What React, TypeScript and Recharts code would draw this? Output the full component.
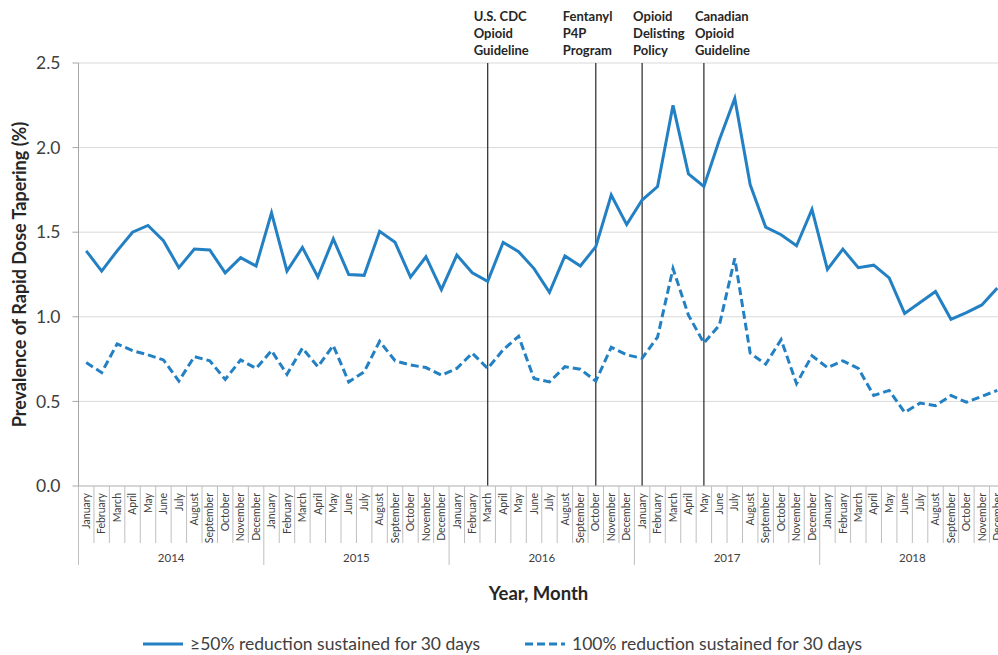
import React from "react"
import { LineChart, Line, XAxis, YAxis, CartesianGrid, ReferenceLine } from "recharts"

const years = ["2014", "2015", "2016", "2017", "2018"]
const monthNames = [
  "January", "February", "March", "April", "May", "June",
  "July", "August", "September", "October", "November", "December",
]

// ≥50% reduction sustained for 30 days
const sustained50 = [
  1.39, 1.27, 1.39, 1.5, 1.54, 1.45, 1.29, 1.4, 1.395, 1.26, 1.35, 1.3,
  1.615, 1.27, 1.41, 1.235, 1.46, 1.25, 1.245, 1.505, 1.44, 1.235, 1.355, 1.16,
  1.365, 1.26, 1.21, 1.44, 1.385, 1.285, 1.145, 1.36, 1.3, 1.415, 1.72, 1.545,
  1.69, 1.77, 2.25, 1.845, 1.77, 2.045, 2.29, 1.78, 1.53, 1.485, 1.42, 1.635,
  1.28, 1.4, 1.29, 1.305, 1.23, 1.02, 1.085, 1.15, 0.985, 1.025, 1.07, 1.17,
]

// 100% reduction sustained for 30 days
const sustained100 = [
  0.73, 0.67, 0.84, 0.8, 0.775, 0.745, 0.62, 0.765, 0.74, 0.63, 0.745, 0.695,
  0.8, 0.66, 0.815, 0.705, 0.83, 0.615, 0.675, 0.855, 0.74, 0.715, 0.7, 0.655,
  0.695, 0.785, 0.695, 0.805, 0.885, 0.635, 0.615, 0.705, 0.69, 0.62, 0.82, 0.775,
  0.755, 0.88, 1.285, 1.01, 0.845, 0.95, 1.345, 0.785, 0.72, 0.865, 0.605, 0.77,
  0.7, 0.74, 0.695, 0.535, 0.565, 0.435, 0.49, 0.475, 0.535, 0.495, 0.53, 0.565,
]

const yTicks = [0, 0.5, 1, 1.5, 2, 2.5]

const events = [
  { key: "2016-03", lines: ["U.S. CDC", "Opioid", "Guideline"], dx: -14 },
  { key: "2016-10", lines: ["Fentanyl", "P4P", "Program"], dx: -33 },
  { key: "2017-01", lines: ["Opioid", "Delisting", "Policy"], dx: -9 },
  { key: "2017-05", lines: ["Canadian", "Opioid", "Guideline"], dx: -9 },
]

const seriesNames = ["≥50% reduction sustained for 30 days", "100% reduction sustained for 30 days"]

const data = sustained50.map((v, i) => ({
  key: `${years[Math.floor(i / 12)]}-${String((i % 12) + 1).padStart(2, "0")}`,
  month: monthNames[i % 12],
  year: years[Math.floor(i / 12)],
  s50: v,
  s100: sustained100[i],
}))

const FONT = "Lato, 'Open Sans', sans-serif"
const BLUE = "#2380c3"
const W = 1010
const H = 655
const LEFT = 78.5
const TOP = 63
const PLOT_W = 926.5
const PLOT_H = 423
const BAND = PLOT_W / data.length

function MonthTick(props: any) {
  const { x, y, index } = props
  const d = data[index]
  if (!d) return null
  const left = x - BAND / 2
  const isJan = index % 12 === 0
  return (
    <g>
      <line x1={left} x2={left} y1={y} y2={y + (isJan ? 79 : 57)} stroke="#bfbfbf" />
      {index === data.length - 1 && (
        <line x1={x + BAND / 2} x2={x + BAND / 2} y1={y} y2={y + 79} stroke="#bfbfbf" />
      )}
      <text
        transform={`translate(${x},${y + 7}) rotate(-90)`}
        textAnchor="end"
        dy="0.35em"
        fontSize={10.5}
        fontFamily={FONT}
        fill="#404040"
      >
        {d.month}
      </text>
      {index % 12 === 6 && (
        <text x={left} y={y + 76} textAnchor="middle" fontSize={11.5} fontFamily={FONT} fill="#404040">
          {d.year}
        </text>
      )}
    </g>
  )
}

function EventLabel({ viewBox, lines, dx }: any) {
  if (!viewBox) return null
  return (
    <text x={viewBox.x + dx} y={viewBox.y - 42} fontSize={13} fontWeight="bold" fontFamily={FONT} fill="#262626">
      {lines.map((t: string, i: number) => (
        <tspan key={i} x={viewBox.x + dx} dy={i === 0 ? 0 : 17}>
          {t}
        </tspan>
      ))}
    </text>
  )
}

function LegendItem({ dashed, label, left }: { dashed?: boolean; label: string; left: number }) {
  return (
    <div style={{ position: "absolute", left, top: 0, display: "flex", alignItems: "center", whiteSpace: "nowrap" }}>
      <svg width={42} height={10}>
        <line x1={0} x2={40} y1={5} y2={5} stroke={BLUE} strokeWidth={3} strokeDasharray={dashed ? "8 4" : undefined} />
      </svg>
      <span style={{ fontFamily: FONT, fontSize: 17.5, color: "#404040", marginLeft: 5 }}>{label}</span>
    </div>
  )
}

export default function App() {
  return (
    <div style={{ position: "fixed", top: 0, left: 0, width: 998, height: 655, overflow: "hidden", background: "#fff" }}>
      <LineChart width={W} height={H} data={data} margin={{ top: TOP, right: W - LEFT - PLOT_W, bottom: 0, left: 0 }}>
        <CartesianGrid vertical={false} stroke="#d9d9d9" />
        <XAxis
          dataKey="key"
          interval={0}
          padding={{ left: BAND / 2, right: BAND / 2 }}
          height={H - TOP - PLOT_H}
          tickSize={0}
          tickMargin={0}
          tickLine={false}
          axisLine={{ stroke: "#bfbfbf" }}
          tick={<MonthTick />}
          label={{
            content: ({ viewBox }: any) => (
              <text
                x={viewBox.x + 460}
                y={viewBox.y + 114}
                textAnchor="middle"
                fontSize={18.5}
                fontWeight="bold"
                fontFamily={FONT}
                fill="#262626"
              >
                Year, Month
              </text>
            ),
          }}
        />
        <YAxis
          width={LEFT}
          domain={[0, 2.5]}
          ticks={yTicks}
          tickFormatter={(v) => Number(v).toFixed(1)}
          tickSize={6}
          tickMargin={12}
          tick={{ fontSize: 17.5, fontFamily: FONT, fill: "#404040" }}
          tickLine={{ stroke: "#a6a6a6" }}
          axisLine={{ stroke: "#a6a6a6" }}
          label={{
            content: ({ viewBox }: any) => (
              <text
                transform={`translate(${viewBox.x + 20},${viewBox.y + viewBox.height / 2}) rotate(-90)`}
                textAnchor="middle"
                dy="0.35em"
                fontSize={18}
                fontWeight="bold"
                fontFamily={FONT}
                fill="#262626"
              >
                Prevalence of Rapid Dose Tapering (%)
              </text>
            ),
          }}
        />
        {events.map((e) => (
          <ReferenceLine
            key={e.key}
            x={e.key}
            stroke="#262626"
            strokeWidth={1.2}
            label={(p: any) => <EventLabel viewBox={p.viewBox} lines={e.lines} dx={e.dx} />}
          />
        ))}
        <Line
          type="linear"
          dataKey="s50"
          name={seriesNames[0]}
          stroke={BLUE}
          strokeWidth={3}
          dot={false}
          isAnimationActive={false}
        />
        <Line
          type="linear"
          dataKey="s100"
          name={seriesNames[1]}
          stroke={BLUE}
          strokeWidth={3}
          strokeDasharray="8 4"
          dot={false}
          isAnimationActive={false}
        />
      </LineChart>
      <div style={{ position: "absolute", top: 633, left: 0, width: 998, height: 22 }}>
        <LegendItem left={143} label={seriesNames[0]} />
        <LegendItem left={525} dashed label={seriesNames[1]} />
      </div>
    </div>
  )
}
